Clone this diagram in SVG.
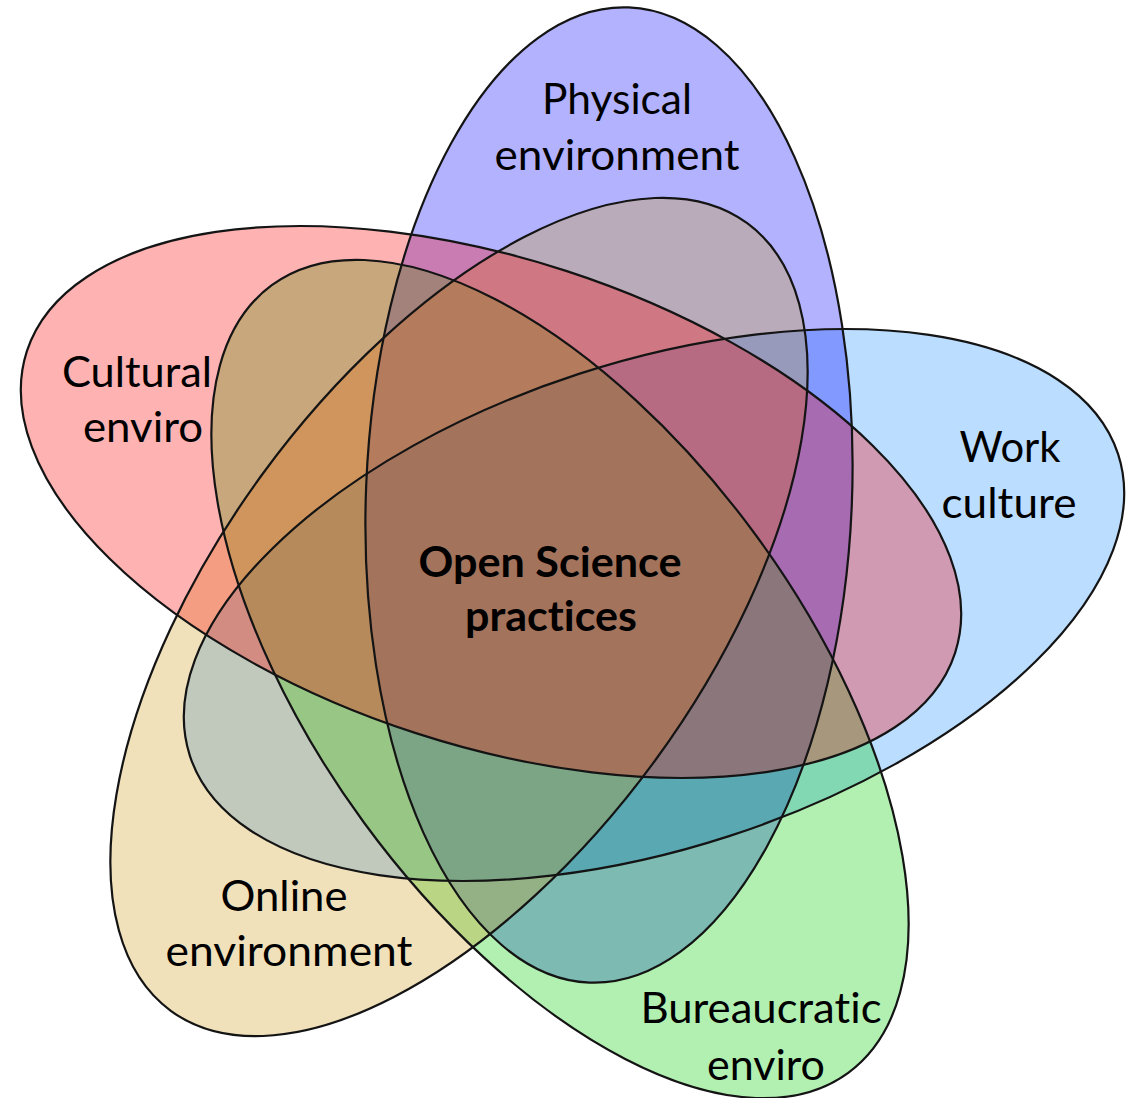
<svg xmlns="http://www.w3.org/2000/svg" width="1133" height="1098" viewBox="0 0 1133 1098">
<defs>
<style>
.f{stroke:none;fill-opacity:0.3}
.o{fill:none;stroke:#141414;stroke-width:2.2}
.t{font-family:Lato,"Liberation Sans",sans-serif;font-size:42px;fill:#000;text-anchor:middle;font-variant-ligatures:none}
.b{font-weight:bold}
</style>
<ellipse id="eW" cx="0" cy="0" rx="488" ry="243" transform="translate(654,605) rotate(-18)"/>
<ellipse id="eB" cx="0" cy="0" rx="488" ry="243" transform="translate(609,495) rotate(-87.7)"/>
<ellipse id="eG" cx="0" cy="0" rx="488" ry="243" transform="translate(560,679) rotate(53.8)"/>
<ellipse id="eY" cx="0" cy="0" rx="488" ry="243" transform="translate(459,617) rotate(-53.8)"/>
<ellipse id="eR" cx="0" cy="0" rx="488" ry="243" transform="translate(491,502) rotate(18)"/>
</defs>
<rect width="1133" height="1098" fill="#ffffff"/>
<g id="work-culture">
<use href="#eW" class="f" fill="#1e90ff"/>
<text class="t" x="1010" y="462" textLength="101" lengthAdjust="spacingAndGlyphs">Work</text>
<text class="t" x="1009" y="518" textLength="135" lengthAdjust="spacingAndGlyphs">culture</text>
</g>
<g id="physical-environment">
<use href="#eB" class="f" fill="#0000ff"/>
<text class="t" x="617" y="114" textLength="150" lengthAdjust="spacingAndGlyphs">Physical</text>
<text class="t" x="617" y="170" textLength="245" lengthAdjust="spacingAndGlyphs">environment</text>
</g>
<g id="bureaucratic-enviro">
<use href="#eG" class="f" fill="#00cd00"/>
<text class="t" x="761" y="1023" textLength="241" lengthAdjust="spacingAndGlyphs">Bureaucratic</text>
<text class="t" x="766" y="1080" textLength="118" lengthAdjust="spacingAndGlyphs">enviro</text>
</g>
<g id="online-environment">
<use href="#eY" class="f" fill="#cd9b1d"/>
<text class="t" x="284" y="911" textLength="127" lengthAdjust="spacingAndGlyphs">Online</text>
<text class="t" x="289" y="966" textLength="247" lengthAdjust="spacingAndGlyphs">environment</text>
</g>
<g id="cultural-enviro">
<use href="#eR" class="f" fill="#ff0000"/>
<text class="t" x="137" y="387" textLength="150" lengthAdjust="spacingAndGlyphs">Cultural</text>
<text class="t" x="143" y="442" textLength="120" lengthAdjust="spacingAndGlyphs">enviro</text>
</g>
<g id="outlines">
<use href="#eW" class="o"/>
<use href="#eB" class="o"/>
<use href="#eG" class="o"/>
<use href="#eY" class="o"/>
<use href="#eR" class="o"/>
</g>
<g id="open-science-practices">
<text class="t b" x="550" y="577" textLength="263" lengthAdjust="spacingAndGlyphs">Open Science</text>
<text class="t b" x="551" y="631" textLength="172" lengthAdjust="spacingAndGlyphs">practices</text>
</g>
</svg>
